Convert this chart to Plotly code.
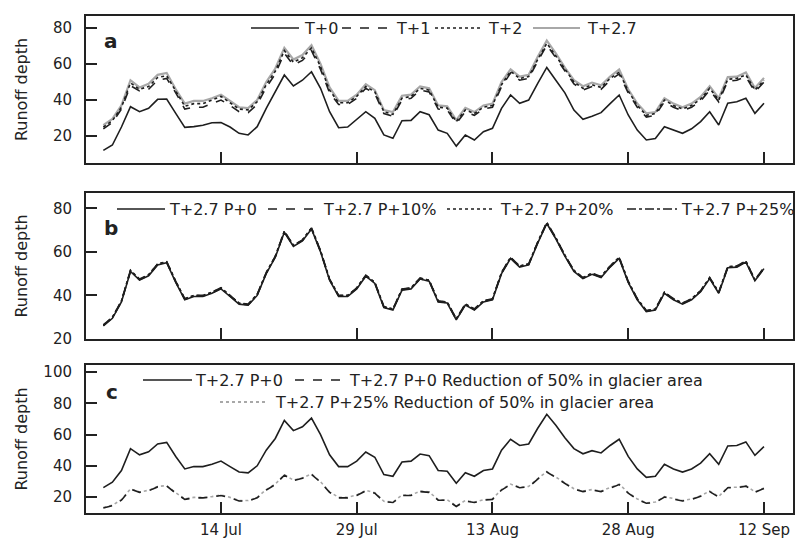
import pandas as pd
import plotly.graph_objects as go

dates = pd.date_range("2007-07-01", periods=74, freq="D")
tick_vals = ["2007-07-14", "2007-07-29", "2007-08-13", "2007-08-28", "2007-09-12"]
tick_text = ["14 Jul", "29 Jul", "13 Aug", "28 Aug", "12 Sep"]

# Panel a
t0 = [12, 15, 25, 36.3, 33.5, 35.4, 40.4, 40.6, 32.6, 24.8, 25.2, 26, 27.4, 27.5, 25, 21.5, 20.6, 25.2, 35.4, 44.6,
      53.9, 47.8, 51, 55.7, 46.5, 33.5, 24.6, 25, 29.3, 33.5, 29.8, 20.6, 18.7, 28.5, 28.7, 33.5, 31.8, 23.3, 21.5, 14.4,
      20.6, 17.8, 22.4, 24.3, 35.4, 42.8, 38.2, 40, 49.3, 58.1, 51, 44, 34.4, 29.3, 31, 33, 38, 42.8, 31.7, 23.3,
      17.8, 18.6, 25.2, 23.3, 21.5, 24, 28, 33.5, 26.1, 38.2, 39, 41, 32.6, 38.2]
t1 = [24, 27.5, 35, 48, 45, 46, 51, 52, 44, 35, 36, 36, 38, 40, 37, 33.5, 33, 37.5, 47, 54.5,
      66, 59.5, 62, 67.5, 57, 44, 37.5, 37.5, 41, 46.5, 43.5, 32.5, 31, 40, 41, 45.5, 44.5, 35, 34.5, 27,
      33.5, 31.5, 35, 36, 47.5, 55, 51, 52, 61.5, 70.5, 63.5, 56, 49, 45.5, 47.5, 46, 51, 54.5, 44, 36,
      30.5, 31.5, 39, 36, 34, 36, 39.5, 45.5, 39, 50.5, 51, 53, 44.5, 50]
t2 = [25, 28.5, 36, 49.5, 46, 47.5, 52.5, 53.5, 45, 36.5, 38, 38, 40, 42, 38.5, 35, 34.5, 39, 48.5, 56,
      67.5, 61, 63.5, 69, 58.5, 45.5, 38.5, 38.5, 42, 47.5, 44.5, 33.5, 32, 41, 42, 46.5, 45.5, 36, 35.5, 28,
      34.5, 32.5, 36, 37, 48.5, 56, 52, 53, 62.5, 71.5, 64.5, 57, 50, 46.5, 48.5, 47, 52, 55.5, 45, 37,
      31.5, 32.5, 40, 37, 35, 37, 40.5, 46.5, 40, 51.5, 52, 54, 45.5, 51]
t27 = [26, 29.5, 37, 51, 47, 49, 54, 55, 46, 38, 39.5, 39.5, 41, 43, 39.5, 36, 35.5, 40, 50, 57.5,
       69, 62.5, 65, 70.5, 60, 47, 39.5, 39.5, 43, 48.8, 45.5, 34.4, 33.3, 42.4, 43, 47.5, 46.5, 37, 36.5, 28.8,
       35.6, 33.3, 37, 38, 50, 57, 53, 54, 64, 73, 66, 58, 51, 47.7, 49.7, 48.2, 53, 57, 46, 38,
       32.6, 33.3, 41, 38, 36, 38, 41.7, 47.7, 41, 52.7, 53, 55.3, 46.7, 52.3]

# Panel b
p0 = t27
p10 = [26.2, 29.7, 37.2, 51.2, 47.2, 49.2, 54.2, 55.2, 46.2, 38.2, 39.7, 39.7, 41.2, 43.2, 39.7, 36.2, 35.7, 40.2, 50.2, 57.7,
       69.2, 62.7, 65.2, 70.7, 60.2, 47.2, 39.7, 39.7, 43.2, 49, 45.7, 34.6, 33.5, 42.6, 43.2, 47.7, 46.7, 37.2, 36.7, 29,
       35.8, 33.5, 37.2, 38.2, 50.2, 57.2, 53.2, 54.2, 64.2, 73.2, 66.2, 58.2, 51.2, 47.9, 49.9, 48.4, 53.2, 57.2, 46.2, 38.2,
       32.8, 33.5, 41.2, 38.2, 36.2, 38.2, 41.9, 47.9, 41.2, 52.9, 53.2, 55.5, 46.9, 52.5]
p20 = [26.4, 29.9, 37.4, 51.4, 47.4, 49.4, 54.4, 55.4, 46.4, 38.4, 39.9, 39.9, 41.4, 43.4, 39.9, 36.4, 35.9, 40.4, 50.4, 57.9,
       69.4, 62.9, 65.4, 70.9, 60.4, 47.4, 39.9, 39.9, 43.4, 49.2, 45.9, 34.8, 33.7, 42.8, 43.4, 47.9, 46.9, 37.4, 36.9, 29.2,
       36, 33.7, 37.4, 38.4, 50.4, 57.4, 53.4, 54.4, 64.4, 73.4, 66.4, 58.4, 51.4, 48.1, 50.1, 48.6, 53.4, 57.4, 46.4, 38.4,
       33, 33.7, 41.4, 38.4, 36.4, 38.4, 42.1, 48.1, 41.4, 53.1, 53.4, 55.7, 47.1, 52.7]
p25 = [26.5, 30, 37.5, 51.5, 47.5, 49.5, 54.5, 55.5, 46.5, 38.5, 40, 40, 41.5, 43.5, 40, 36.5, 36, 40.5, 50.5, 58,
       69.5, 63, 65.5, 71, 60.5, 47.5, 40, 40, 43.5, 49.3, 46, 34.9, 33.8, 42.9, 43.5, 48, 47, 37.5, 37, 29.3,
       36.1, 33.8, 37.5, 38.5, 50.5, 57.5, 53.5, 54.5, 64.5, 73.5, 66.5, 58.5, 51.5, 48.2, 50.2, 48.7, 53.5, 57.5, 46.5, 38.5,
       33.1, 33.8, 41.5, 38.5, 36.5, 38.5, 42.2, 48.2, 41.5, 53.2, 53.5, 55.8, 47.2, 52.8]

# Panel c
c_p0 = t27
c_p0_red = [13, 14.5, 18, 25, 23, 24, 26.5, 27, 22.5, 18.5, 19.5, 19.5, 20, 21, 19.5, 17.5, 17.5, 19.5, 24.5, 28,
            34, 30.5, 32, 34.5, 29.5, 23, 19.5, 19.5, 21, 24, 22.5, 17, 16.5, 21, 21, 23.5, 23, 18, 18, 14,
            17.5, 16.5, 18, 18.5, 24.5, 28, 26, 26.5, 31.5, 36, 32.5, 28.5, 25, 23.5, 24.5, 23.5, 26, 28, 22.5, 18.5,
            16, 16.5, 20, 18.5, 17.5, 18.5, 20.5, 23.5, 20, 26, 26, 27, 23, 25.5]
c_p25_red = [13.3, 14.8, 18.3, 25.3, 23.3, 24.3, 26.8, 27.3, 22.8, 18.8, 19.8, 19.8, 20.3, 21.3, 19.8, 17.8, 17.8, 19.8, 24.8, 28.3,
             34.3, 30.8, 32.3, 34.8, 29.8, 23.3, 19.8, 19.8, 21.3, 24.3, 22.8, 17.3, 16.8, 21.3, 21.3, 23.8, 23.3, 18.3, 18.3, 14.3,
             17.8, 16.8, 18.3, 18.8, 24.8, 28.3, 26.3, 26.8, 31.8, 36.3, 32.8, 28.8, 25.3, 23.8, 24.8, 23.8, 26.3, 28.3, 22.8, 18.8,
             16.3, 16.8, 20.3, 18.8, 17.8, 18.8, 20.8, 23.8, 20.3, 26.3, 26.3, 27.3, 23.3, 25.8]

FONT = "DejaVu Sans, Verdana, sans-serif"
DARK = "#1e1e1e"
GRAY = "#a8a8a8"
W = 1.6

PLOT_L, PLOT_R, PLOT_T, PLOT_B = 86, 793, 16, 513
PW, PH = PLOT_R - PLOT_L, PLOT_B - PLOT_T

def px_x(xp):
    return (xp - PLOT_L) / PW

def px_y(yp):
    return (PLOT_B - yp) / PH

fig = go.Figure()

def add(y, name, ax, color=DARK, dash="solid", width=W):
    fig.add_trace(go.Scatter(x=dates, y=y, name=name, mode="lines", showlegend=False,
                             line=dict(color=color, dash=dash, width=width),
                             xaxis="x" if ax == 1 else f"x{ax}", yaxis="y" if ax == 1 else f"y{ax}"))

# panel a (grey T+2.7 underneath)
add(t27, "T+2.7", 1, color=GRAY, width=2.2)
add(t0, "T+0", 1)
add(t2, "T+2", 1, dash="dot")
add(t1, "T+1", 1, dash="dash")

add(p0, "T+2.7 P+0", 2)
add(p10, "T+2.7 P+10%", 2, dash="dash")
add(p20, "T+2.7 P+20%", 2, dash="dot")
add(p25, "T+2.7 P+25%", 2, dash="dashdot")

add(c_p25_red, "T+2.7 P+25% Reduction of 50% in glacier area", 3, color=GRAY, dash="dot")
add(c_p0, "T+2.7 P+0", 3)
add(c_p0_red, "T+2.7 P+0 Reduction of 50% in glacier area", 3, dash="dash")

xr = ["2007-06-29 02:00", "2007-09-15 05:00"]
axis_common = dict(showline=True, mirror=True, linecolor="#222", linewidth=2, ticks="inside",
                   ticklen=11, tickwidth=1.5, tickcolor="#222", showgrid=False, zeroline=False,
                   automargin=False, tickfont=dict(family=FONT, size=15, color="#222"))

def dom(top_px, bot_px):
    return [px_y(bot_px), px_y(top_px)]

def ytitle(standoff):
    return dict(text="Runoff depth", font=dict(family=FONT, size=16, color="#222"), standoff=standoff)

fig.update_layout(
    width=798, height=540, paper_bgcolor="white", plot_bgcolor="white",
    margin=dict(l=PLOT_L, r=798 - PLOT_R, t=PLOT_T, b=540 - PLOT_B, autoexpand=False),
    font=dict(family=FONT, size=15, color="#222"),
    showlegend=False,
    xaxis=dict(**axis_common, range=xr, tickvals=tick_vals, showticklabels=False, anchor="y"),
    xaxis2=dict(**axis_common, range=xr, tickvals=tick_vals, showticklabels=False, anchor="y2", matches="x"),
    xaxis3=dict(**axis_common, range=xr, tickvals=tick_vals, ticktext=tick_text, anchor="y3", matches="x",
                ticklabelstandoff=2, ticklabeloverflow="allow"),
    yaxis=dict(**axis_common, domain=dom(16, 163), range=[5, 86.7], tickvals=[20, 40, 60, 80],
               ticklabelstandoff=9, title=ytitle(21)),
    yaxis2=dict(**axis_common, domain=dom(193, 339), range=[20, 87], tickvals=[20, 40, 60, 80],
                ticklabelstandoff=9, title=ytitle(21)),
    yaxis3=dict(**axis_common, domain=dom(365, 513), range=[9.8, 104.5], tickvals=[20, 40, 60, 80, 100],
                ticklabelstandoff=9, title=ytitle(12)),
)

# legends drawn as line samples + text (pixel positions from the reference)
legend_items = [
    # (line x0, line x1, y, text x, text, color, dash)
    (251, 299, 28, 302, "T+0", DARK, "solid"),
    (342, 392, 28, 394, "T+1", DARK, "dash"),
    (435, 480, 28, 486, "T+2", DARK, "dot"),
    (533, 580, 28, 585, "T+2.7", GRAY, "solid"),
    (117, 165, 209, 167, "T+2.7 P+0", DARK, "solid"),
    (268, 318, 209, 321, "T+2.7 P+10%", DARK, "dash"),
    (447, 494, 209, 498, "T+2.7 P+20%", DARK, "dot"),
    (627, 677, 209, 679, "T+2.7 P+25%", DARK, "dashdot"),
    (143, 192, 380, 193, "T+2.7 P+0", DARK, "solid"),
    (295, 344, 380, 347, "T+2.7 P+0 Reduction of 50% in glacier area", DARK, "dash"),
    (220, 268, 402, 273, "T+2.7 P+25% Reduction of 50% in glacier area", GRAY, "dot"),
]
for x0, x1, yp, xt, txt, col, dsh in legend_items:
    fig.add_shape(type="line", xref="paper", yref="paper", x0=px_x(x0), x1=px_x(x1), y0=px_y(yp), y1=px_y(yp),
                  line=dict(color=col, width=1.6 if col == DARK else 2.2, dash=dsh))
    fig.add_annotation(text=txt, x=px_x(xt), y=px_y(yp), xref="paper", yref="paper", showarrow=False,
                       xanchor="left", yanchor="middle", font=dict(family=FONT, size=16, color="#222"))

for txt, xp, yp in [("a", 111, 41), ("b", 111, 228), ("c", 112, 392)]:
    fig.add_annotation(text=f"<b>{txt}</b>", x=px_x(xp), y=px_y(yp), xref="paper", yref="paper",
                       showarrow=False, font=dict(family=FONT, size=20, color="#222"),
                       xanchor="center", yanchor="middle")

fig.write_html("out.html", config={"displayModeBar": False},
               post_script="document.body.style.margin='0';document.body.style.padding='0';")
